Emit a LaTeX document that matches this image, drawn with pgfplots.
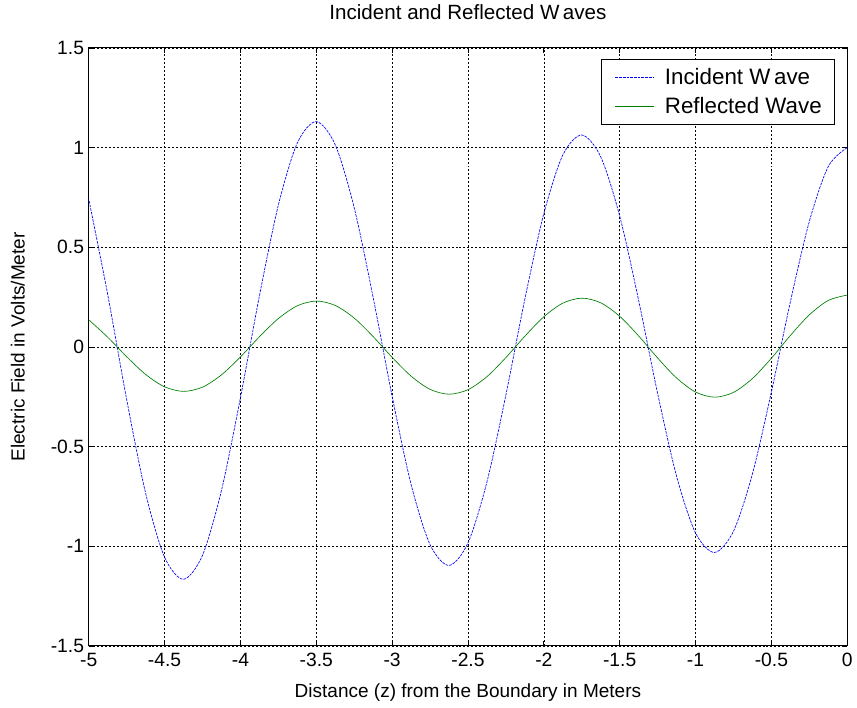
\documentclass[border=0pt]{standalone}
\usepackage{pgfplots}
\pgfplotsset{compat=1.18}
\usepackage{fontspec}
\setmainfont{Liberation Sans}
\definecolor{mgreen}{RGB}{0,128,0}
\begin{document}
\begin{tikzpicture}[x=1pt,y=1pt]
\begin{axis}[
  scale only axis,
  width=570.75pt, height=450pt,
  xmin=-5, xmax=0, ymin=-1.5, ymax=1.5,
  xtick={-5,-4.5,...,0}, ytick={-1.5,-1,...,1.5},
  xticklabels={-5,-4.5,-4,-3.5,-3,-2.5,-2,-1.5,-1,-0.5,0},
  yticklabels={-1.5,-1,-0.5,0,0.5,1,1.5},
  /pgf/number format/assume math mode=true,
  tick align=inside, major tick length=4pt,
  xtick pos=both, ytick pos=both,
  tick style={black, line width=0.5pt},
  axis line style={black, line width=0.8pt},
  grid=major,
  major grid style={black, line width=0.4pt, dash pattern=on 1.5pt off 1.5pt},
  font=\fontsize{14.3}{16}\selectfont,
  ticklabel style={font=\fontsize{14.5}{16}\selectfont},
  xticklabel style={yshift=-2pt},
  title={Incident and Reflected W\,aves},
  title style={at={(axis description cs:0.5,1.0467)}, anchor=center, font=\fontsize{15.5}{17}\selectfont},
  xlabel={Distance (z) from the Boundary in Meters},
  ylabel={Electric Field in Volts/Meter},
  xlabel style={at={(axis description cs:0.5,-0.0783)}, anchor=center},
  ylabel style={at={(axis description cs:-0.0933,0.5)}, anchor=center},
  legend style={at={(rel axis cs:1,1)}, anchor=north east, xshift=-9pt, yshift=-8.25pt,
    draw=black, line width=0.6pt, font=\fontsize{16.8}{19}\selectfont, row sep=4pt,
    inner xsep=7.9pt, inner ysep=5pt, cells={anchor=west}},
  legend image code/.code={\draw[#1] (0pt,0pt) -- (29.25pt,0pt); \path (-2.6pt,0pt) (35pt,0pt);},
  clip=false,
]
\addplot[blue, line width=0.5pt, dash pattern=on 2pt off 0.8pt, smooth, tension=0.5] coordinates {
(0,1.0000) (-0.125,0.9049) (-0.25,0.6290) (-0.375,0.2255) (-0.5,-0.2264) (-0.625,-0.6373)
(-0.75,-0.9249) (-0.875,-1.0311) (-1,-0.9331) (-1.125,-0.6485) (-1.25,-0.2325) (-1.375,0.2335)
(-1.5,0.6571) (-1.625,0.9537) (-1.75,1.0632) (-1.875,0.9621) (-2,0.6687) (-2.125,0.2397)
(-2.25,-0.2408) (-2.375,-0.6775) (-2.5,-0.9834) (-2.625,-1.0962) (-2.75,-0.9920) (-2.875,-0.6895)
(-3,-0.2472) (-3.125,0.2482) (-3.25,0.6986) (-3.375,1.0139) (-3.5,1.1303) (-3.625,1.0229)
(-3.75,0.7109) (-3.875,0.2548) (-4,-0.2560) (-4.125,-0.7203) (-4.25,-1.0455) (-4.375,-1.1655)
(-4.5,-1.0547) (-4.625,-0.7331) (-4.75,-0.2628) (-4.875,0.2639) (-5,0.7427)
};
\addlegendentry{Incident W\,ave}
\addplot[mgreen, line width=0.5pt, smooth, tension=0.5] coordinates {
(0,0.2600) (-0.125,0.2332) (-0.25,0.1607) (-0.375,0.0571) (-0.5,-0.0569) (-0.625,-0.1586)
(-0.75,-0.2282) (-0.875,-0.2522) (-1,-0.2262) (-1.125,-0.1558) (-1.25,-0.0554) (-1.375,0.0551)
(-1.5,0.1538) (-1.625,0.2213) (-1.75,0.2446) (-1.875,0.2194) (-2,0.1511) (-2.125,0.0537)
(-2.25,-0.0535) (-2.375,-0.1492) (-2.5,-0.2146) (-2.625,-0.2372) (-2.75,-0.2128) (-2.875,-0.1466)
(-3,-0.0521) (-3.125,0.0519) (-3.25,0.1447) (-3.375,0.2081) (-3.5,0.2300) (-3.625,0.2063)
(-3.75,0.1422) (-3.875,0.0505) (-4,-0.0503) (-4.125,-0.1403) (-4.25,-0.2019) (-4.375,-0.2231)
(-4.5,-0.2001) (-4.625,-0.1379) (-4.75,-0.0490) (-4.875,0.0488) (-5,0.1361)
};
\addlegendentry{Reflected Wave}
\path (rel axis cs:0,0) ++(-66.75pt,-46.5pt) coordinate (bl);
\path (rel axis cs:1,1) ++(5.25pt,33.75pt) coordinate (tr);
\path (bl) (tr);
\end{axis}
\end{tikzpicture}
\end{document}
